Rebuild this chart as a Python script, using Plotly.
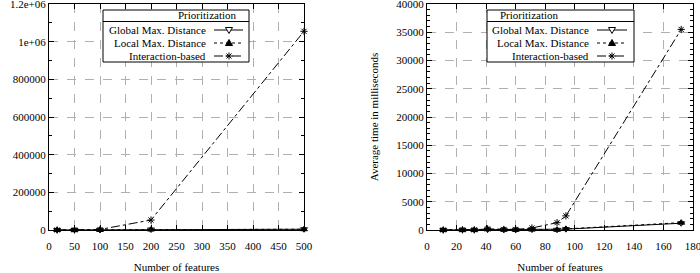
import plotly.graph_objects as go

# ---- data ----
left_x = [16, 50, 100, 200, 500]
left_global = [50, 200, 600, 2500, 4000]
left_local = [50, 200, 600, 2500, 4000]
left_inter = [100, 400, 3000, 53000, 1055000]

right_x = [11, 24, 32, 41, 52, 60, 71, 88, 94, 172]
right_global = [5, 20, 15, 100, 60, 40, 80, 40, 150, 1200]
right_local = [5, 20, 15, 150, 60, 40, 80, 40, 200, 1300]
right_inter = [10, 30, 30, 200, 100, 100, 350, 1300, 2500, 35500]

series_names = ["Global Max. Distance", "Local Max. Distance", "Interaction-based"]
left_ytickvals = [0, 200000, 400000, 600000, 800000, 1000000, 1200000]
left_yticktext = ["0", "200000", "400000", "600000", "800000", "1e+06", "1.2e+06"]
left_yminor = [100000, 300000, 500000, 700000, 900000, 1100000]

W, H = 700, 273
FONT = "Liberation Serif, Times New Roman, serif"
styles = [
    dict(dash="solid", symbol="triangle-down-open"),
    dict(dash="dot", symbol="triangle-up"),
    dict(dash="dashdot", symbol="asterisk-open"),
]

fig = go.Figure()

def add_series(xs, ys_list, xa, ya):
    for ys, st in zip(ys_list, styles):
        fig.add_trace(go.Scatter(
            x=xs, y=ys, xaxis=xa, yaxis=ya, mode="lines+markers",
            line=dict(color="black", width=1, dash=st["dash"]),
            marker=dict(symbol=st["symbol"], size=6, color="black",
                        line=dict(color="black", width=1)),
            showlegend=False, hoverinfo="skip", cliponaxis=False))

add_series(left_x, [left_global, left_local, left_inter], "x", "y")
add_series(right_x, [right_global, right_local, right_inter], "x2", "y2")

ydom = [1 - 230 / H, 1 - 4 / H]
common = dict(
    showline=True, linecolor="black", linewidth=1, mirror="ticks",
    ticks="inside", ticklen=5, tickcolor="black",
    showgrid=True, gridcolor="#b0b0b0", griddash="dash", gridwidth=1,
    zeroline=False, tickfont=dict(family=FONT, size=11, color="black"),
    ticklabeloverflow="allow", automargin=False,
)
xtitle = dict(text="Number of features", standoff=13, font=dict(family=FONT, size=11))

fig.update_layout(
    width=W, height=H, margin=dict(l=0, r=0, t=0, b=0, autoexpand=False),
    plot_bgcolor="rgba(0,0,0,0)", paper_bgcolor="white",
    font=dict(family=FONT, size=11, color="black"),
    xaxis=dict(domain=[49 / W, 304 / W], range=[0, 500], dtick=50, anchor="y",
               ticklabelstandoff=6, title=xtitle, **common),
    yaxis=dict(domain=ydom, range=[0, 1200000], tickmode="array", tickvals=left_ytickvals,
               ticktext=left_yticktext, anchor="x",
               minor=dict(ticks="inside", ticklen=3, tickmode="array", tickvals=left_yminor,
                          tickcolor="black", showgrid=False),
               **common),
    xaxis2=dict(domain=[427 / W, 693 / W], range=[0, 180], dtick=20, anchor="y2",
                ticklabelstandoff=6, title=xtitle, **common),
    yaxis2=dict(domain=ydom, range=[0, 40000], dtick=5000, anchor="x2", tickformat="d",
                minor=dict(ticks="inside", ticklen=3, dtick=1000, tickcolor="black", showgrid=False),
                title=dict(text="Average time in milliseconds", standoff=15,
                           font=dict(family=FONT, size=11)), **common),
)

# ---- custom legends, drawn in pixel units converted to paper coords ----
def px(x):
    return x / W

def py(y):
    return 1 - y / H

def path(points, close=True):
    s = "M " + " L ".join(f"{px(a):.5f},{py(b):.5f}" for a, b in points)
    return s + (" Z" if close else "")

def symbol_shapes(kind, cx, cy):
    r = 3.5
    if kind == "triangle-down-open":
        fig.add_shape(type="path", xref="paper", yref="paper", layer="above",
                      path=path([(cx - r, cy - 2.5), (cx + r, cy - 2.5), (cx, cy + 3.5)]),
                      line=dict(color="black", width=1), fillcolor="white")
    elif kind == "triangle-up":
        fig.add_shape(type="path", xref="paper", yref="paper", layer="above",
                      path=path([(cx - r, cy + 2.5), (cx + r, cy + 2.5), (cx, cy - 3.5)]),
                      line=dict(color="black", width=1), fillcolor="black")
    else:
        segs = [((cx - r, cy), (cx + r, cy)), ((cx, cy - r), (cx, cy + r)),
                ((cx - 2.5, cy - 2.5), (cx + 2.5, cy + 2.5)),
                ((cx - 2.5, cy + 2.5), (cx + 2.5, cy - 2.5))]
        for a, b in segs:
            fig.add_shape(type="path", xref="paper", yref="paper", layer="above",
                          path=path([a, b], close=False), line=dict(color="black", width=1))

def legend(x0, x1, text_right, s0, s1, smark):
    fig.add_shape(type="rect", xref="paper", yref="paper", x0=px(x0), x1=px(x1),
                  y0=py(10), y1=py(62), line=dict(color="black", width=1),
                  fillcolor="white", layer="above")
    fig.add_shape(type="line", xref="paper", yref="paper", x0=px(x0), x1=px(x1),
                  y0=py(21.5), y1=py(21.5), line=dict(color="black", width=1), layer="above")
    fig.add_annotation(xref="paper", yref="paper", x=px((x0 + x1) / 2), y=py(15),
                       text="Prioritization", showarrow=False,
                       font=dict(family=FONT, size=11), yanchor="middle")
    for i, (name, st) in enumerate(zip(series_names, styles)):
        yy = 30 + i * 13
        fig.add_annotation(xref="paper", yref="paper", x=px(text_right), y=py(yy), text=name,
                           showarrow=False, xanchor="right", yanchor="middle",
                           font=dict(family=FONT, size=11))
        fig.add_shape(type="line", xref="paper", yref="paper", x0=px(s0), x1=px(s1),
                      y0=py(yy), y1=py(yy), layer="above",
                      line=dict(color="black", width=1, dash=st["dash"]))
        symbol_shapes(st["symbol"], smark, yy)

legend(103, 249, 208, 214, 243, 229)
legend(487, 634, 591, 597, 627, 612)

fig.write_html("out.html")
